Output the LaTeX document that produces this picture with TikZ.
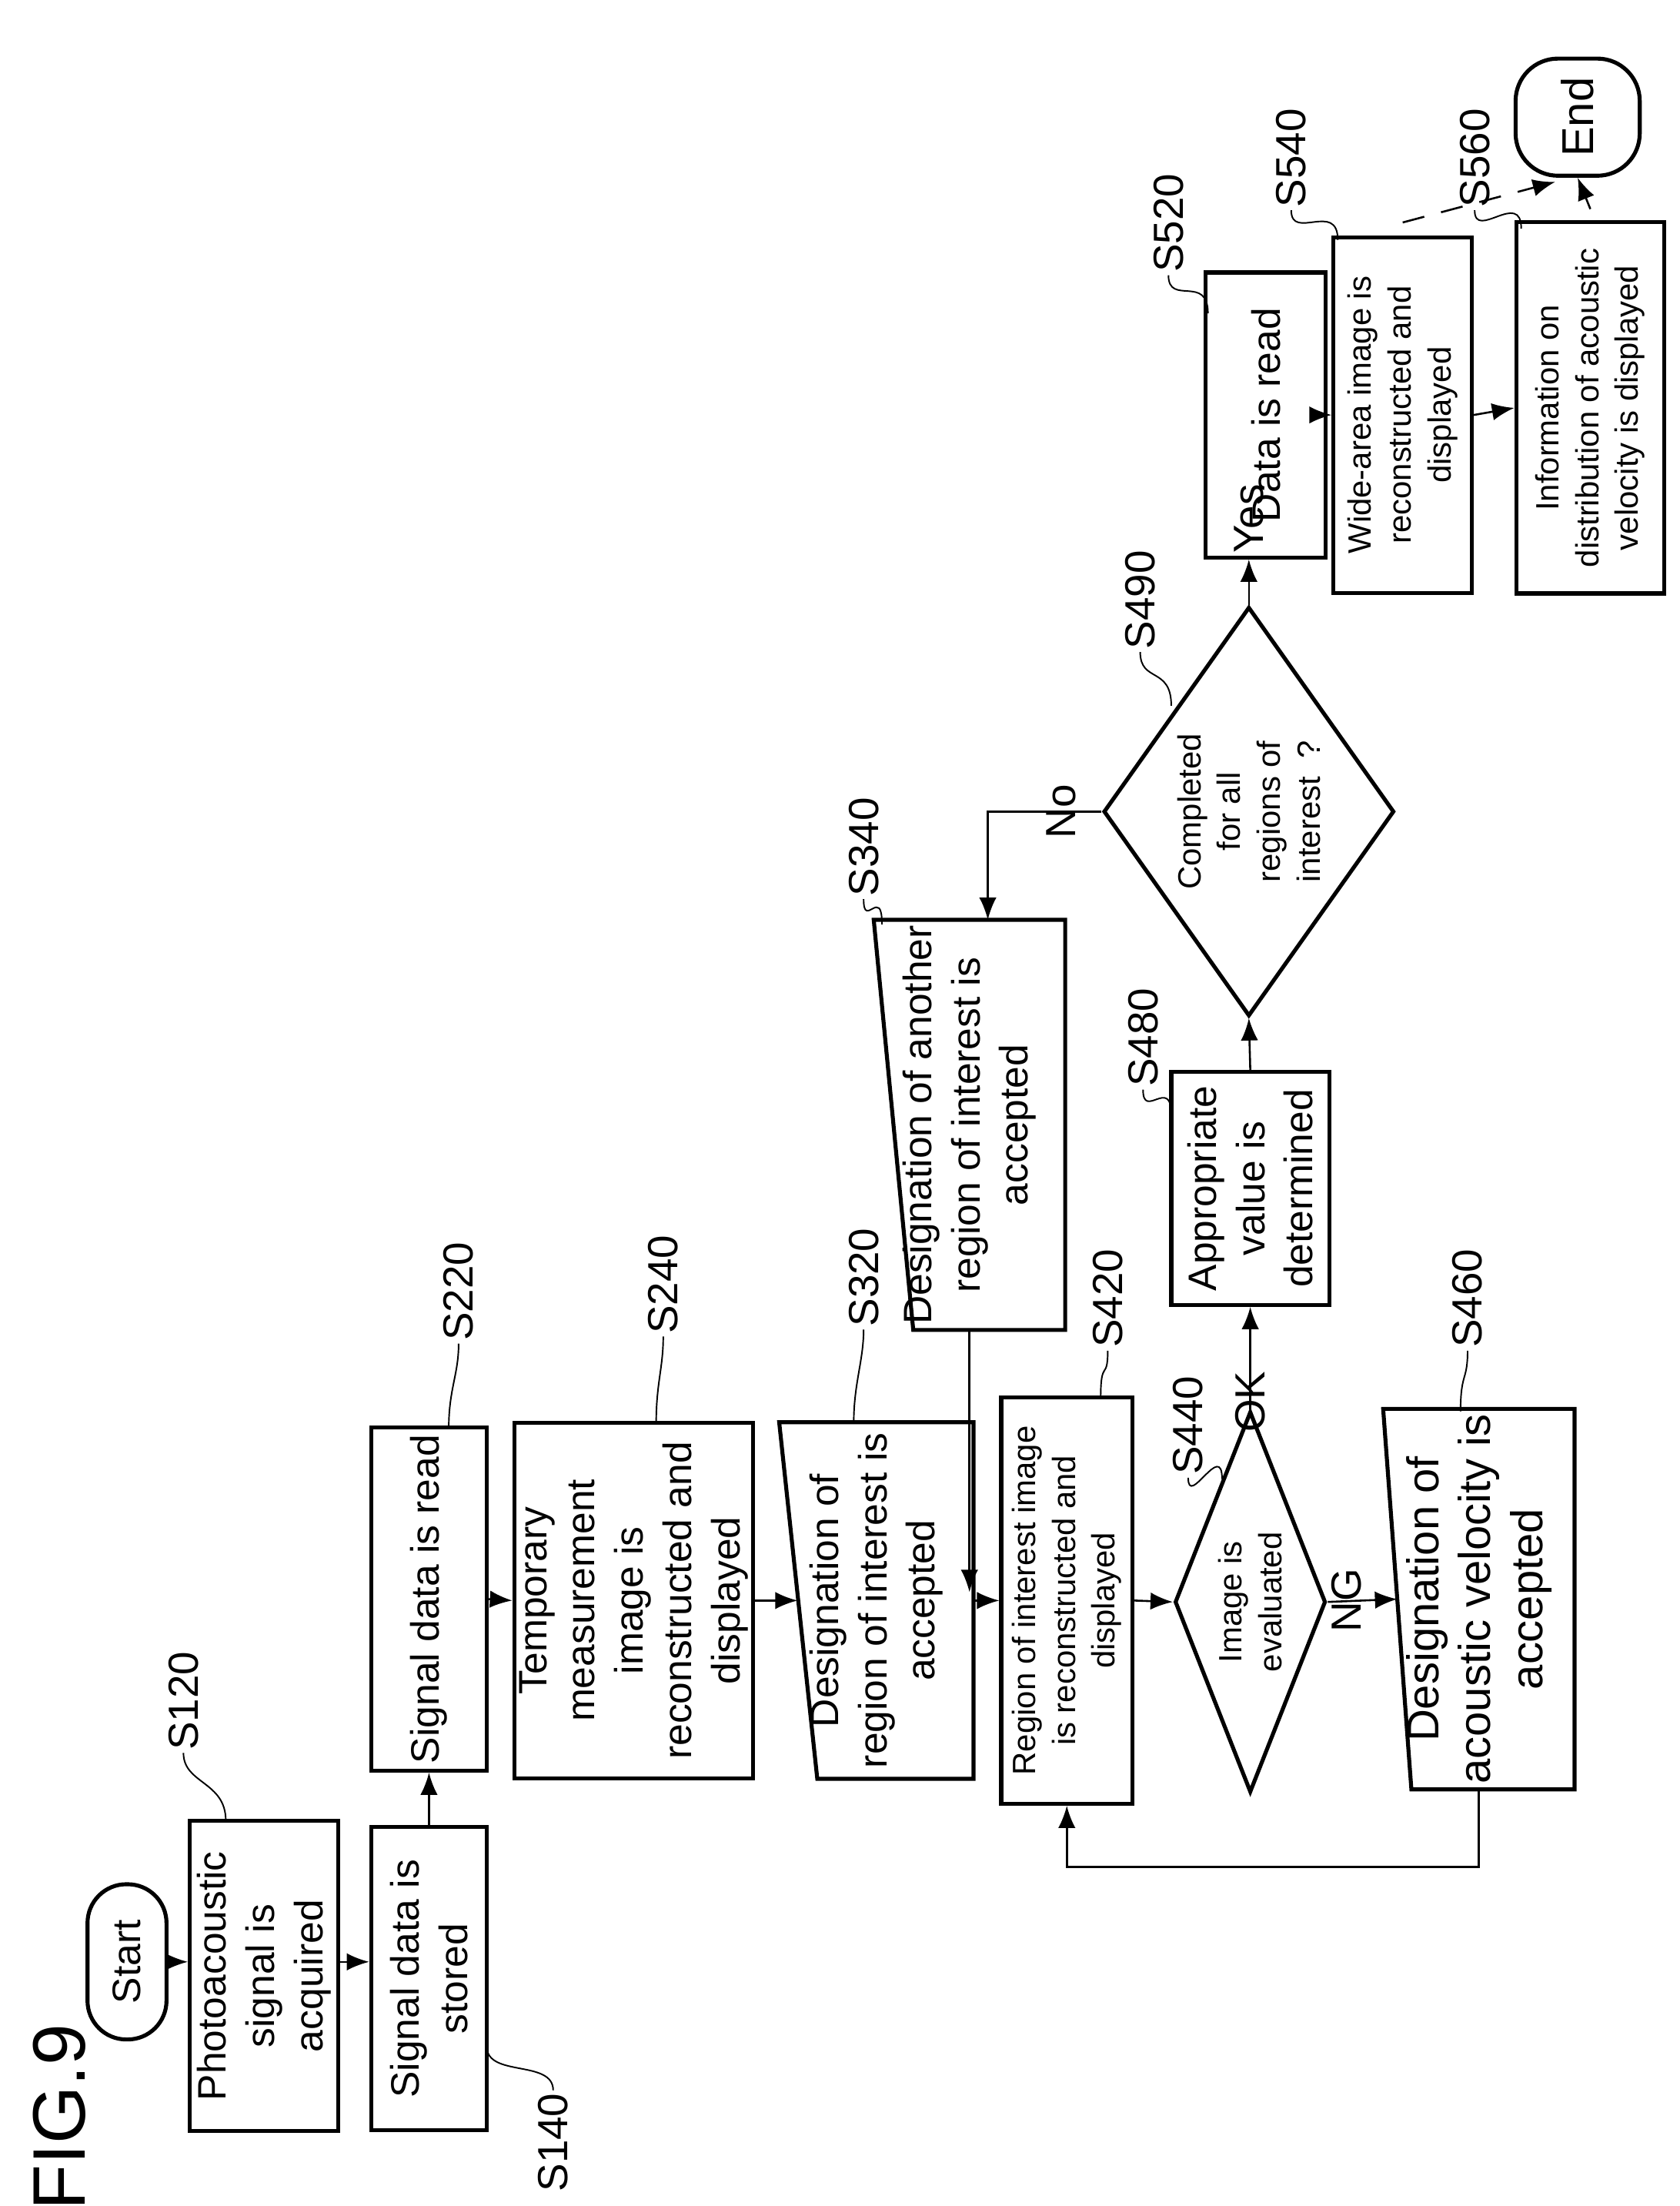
\documentclass[tikz,border=0pt]{standalone}
\usepackage{fontspec}
\setmainfont{Liberation Sans}
\usetikzlibrary{shapes.geometric,calc,arrows.meta}

\tikzset{
  stepbox/.style={draw, line width=1.6pt, rotate=90, align=center, inner sep=2pt,
    font=\fontsize{16}{19.5}\selectfont},
  smalltxt/.style={font=\fontsize{13}{16}\selectfont},
  openbox/.style={rotate=90, align=center, inner sep=2pt,
    font=\fontsize{16}{19.5}\selectfont},
  decide/.style={draw, line width=1.6pt, rotate=90, align=center, diamond,
    inner sep=0pt, font=\fontsize{13}{16}\selectfont},
  steptag/.style={rotate=90, inner sep=1pt, font=\fontsize{17}{20}\selectfont},
  flow/.style={line width=0.8pt, -{Latex[length=9pt,width=7pt]}},
}

\begin{document}
\begin{tikzpicture}[x=0.02cm, y=-0.02cm]
    \useasboundingbox (0,0) rectangle (1190,1563);

    % Titre
    \node[steptag, font=\fontsize{30}{34}\selectfont] (fig) at (42,1500) {FIG.9};

    % Etapes
    \node[stepbox, rounded corners=0.55cm, minimum width=2.2cm, minimum height=1.12cm] (start) at (90,1390) {Start};
    \node[stepbox, minimum width=4.4cm, minimum height=2.1cm] (s120) at (187,1400) {Photoacoustic\\signal is\\acquired};
    \node[stepbox, minimum width=4.3cm, minimum height=1.64cm] (s140) at (304,1402) {Signal data is\\stored};
    \node[stepbox, minimum width=4.86cm, minimum height=1.64cm] (s220) at (304,1133) {Signal data is read};
    \node[stepbox, minimum width=5.04cm, minimum height=3.16cm] (s240) at (449,1134) {Temporary\\measurement\\image is\\reconstructed and\\displayed};
    \node[openbox, minimum width=5.04cm, minimum height=2.74cm] (s320) at (621,1134) {Designation of\\region of interest is\\accepted};
    \node[openbox, minimum width=5.7cm, minimum height=2.7cm] (s340) at (687,797) {Designation of another\\region of interest is\\accepted};
    \node[stepbox, smalltxt, minimum width=5.76cm, minimum height=1.86cm] (s420) at (756,1134) {Region of interest image\\is reconstructed and\\displayed};
    \node[decide, shape aspect=2.5, minimum width=5.4cm, minimum height=2.14cm] (s440) at (886,1135) {Image is\\evaluated};
    \node[openbox, font=\fontsize{18}{21}\selectfont, minimum width=5.3cm, minimum height=2.7cm] (s460) at (1048,1133) {Designation of\\acoustic velocity is\\accepted};
    \node[stepbox, minimum width=3.3cm, minimum height=2.24cm] (s480) at (886,842) {Appropriate\\value is\\determined};
    \node[decide, shape aspect=1.4, minimum width=5.8cm, minimum height=4.12cm] (s490) at (885,575) {Completed\\for all\\regions of\\interest~~?};
    \node[stepbox, minimum width=4.04cm, minimum height=1.7cm] (s520) at (897,294) {Data is read};
    \node[stepbox, smalltxt, minimum width=5.04cm, minimum height=1.96cm] (s540) at (994,294) {Wide-area image is\\reconstructed and\\displayed};
    \node[stepbox, smalltxt, minimum width=5.26cm, minimum height=2.1cm] (s560) at (1127,289) {Information on\\distribution of acoustic\\velocity is displayed};
    \node[stepbox, font=\fontsize{18}{21}\selectfont, rounded corners=0.6cm, minimum width=1.66cm, minimum height=1.76cm] (end) at (1118,83) {End};

    % Trapezes (saisie manuelle)
    \foreach \n/\s in {s320/27, s340/28, s460/20} {
        \draw[line width=1.6pt] (\n.north east) -- ($(\n.north west)+(\s,0)$)
            -- (\n.south west) -- (\n.south east) -- cycle;
    }

    % Fleches
    \draw[flow] (start.south) -- (start.south -| s120.north);
    \draw[flow] (s120.south |- start.south) -- (s140.north |- start.south);
    \draw[flow] (s140.east) -- (s220.west);
    \draw[flow] (s220.south) -- (s240.north);
    \draw[flow] (s240.south) -- ($(s320.north)+(13,0)$);
    \draw[flow] (s320.south) -- (s420.north);
    \draw[flow] (s340.west) -- ($(s340.west |- s420.north)+(0,-6)$);
    \draw[flow] (s420.south) -- (s440.north);
    \draw[flow] (s440.south) -- node[steptag, above=2pt, pos=0.6] {NG} ($(s460.north)+(10,0)$);
    \draw[flow] (s460.west) -- ($(s460.west)+(0,55)$) -| (s420.west);
    \draw[flow] (s440.east) -- node[steptag, left=4pt] {OK} (s480.west);
    \draw[flow] (s480.east) -- (s490.west);
    \draw[flow] (s490.north) -| node[steptag, pos=0.3, below=4pt] {No} ($(s340.east)+(13,0)$);
    \draw[flow] (s490.east) -- node[steptag, right=14pt, pos=0.3] {Yes} (s490.east |- s520.west);
    \draw[flow] (s520.south) -- (s540.north);
    \draw[flow] (s540.south) -- (s560.north);
    \draw[flow] ($(s560.east)+(0,-8)$) -- (end.west);
    \draw[flow, dashed, dash pattern=on 9pt off 7pt] ($(s540.east)+(0,-9)$) -- ($(end.west)+(-16,3)$);

    % Reperes des etapes (au-dessus)
    \foreach \n/\bx/\by/\lx/\ly in {120/160/1290/130/1205, 220/318/1012/325/915,
        240/465/1008/470/910, 320/605/1008/612/905, 340/625/655/612/600,
        420/780/990/785/920, 460/1035/1000/1040/920, 480/830/790/810/735,
        490/830/500/808/425, 520/856/222/828/158, 540/948/170/915/112,
        560/1078/162/1045/112, 440/866/1048/842/1010} {
        \node[steptag] (l\n) at (\lx,\ly) {S\n};
        \draw[line width=0.6pt] (\bx,\by) .. controls +(0,-28) and +(0,22) .. (l\n.west);
    }
    % Repere S140 (au-dessous)
    \node[steptag] (l140) at (392,1518) {S140};
    \draw[line width=0.6pt] (345,1450) .. controls +(0,22) and +(0,-22) .. (l140.east);
\end{tikzpicture}
\end{document}
